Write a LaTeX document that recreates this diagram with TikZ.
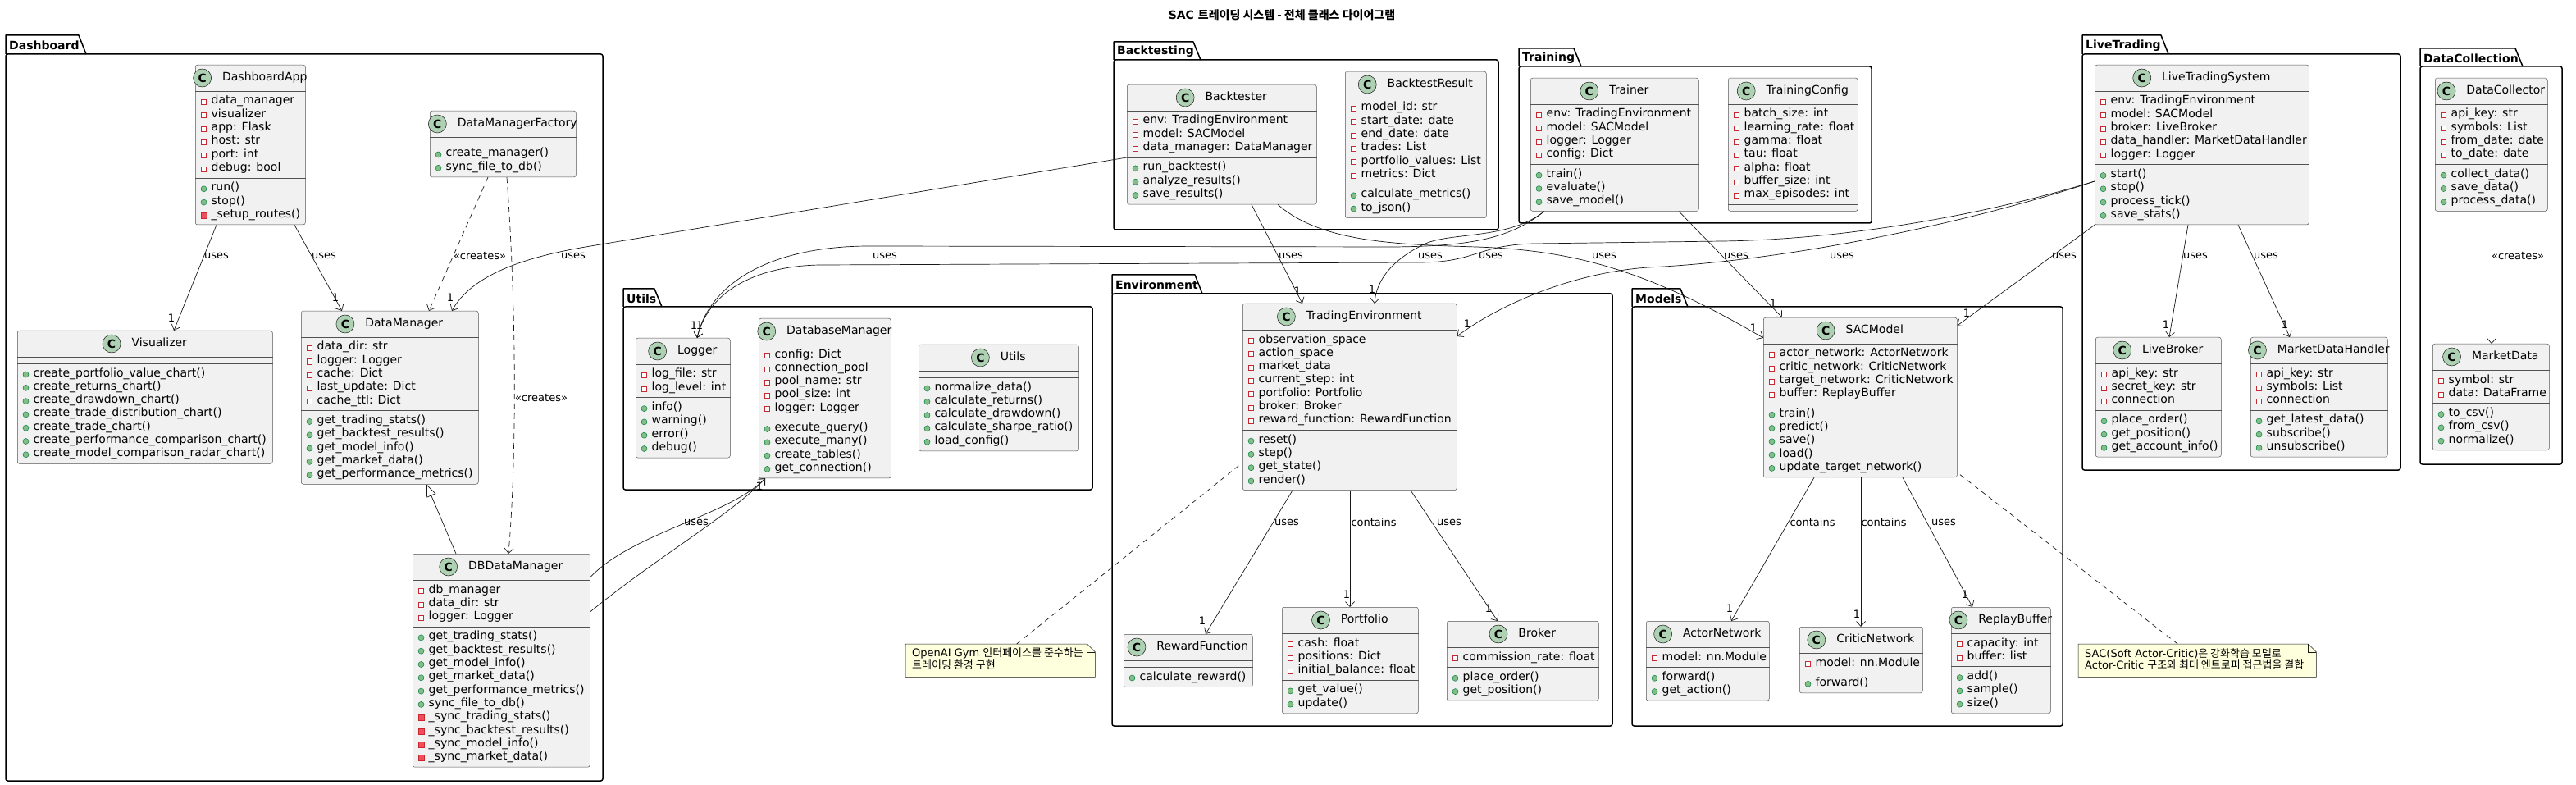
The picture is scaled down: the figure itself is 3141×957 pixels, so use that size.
\documentclass[tikz,border=0pt]{standalone}
\usepackage{fontspec}
\setmainfont{DejaVu Sans}
\newfontfamily\kr{Noto Sans CJK KR}
\usetikzlibrary{arrows.meta,positioning,calc}

\definecolor{umlfill}{HTML}{F1F1F1}
\definecolor{umlborder}{HTML}{181818}
\definecolor{iconfill}{HTML}{ADD1B2}
\definecolor{privred}{HTML}{C82930}
\definecolor{privfill}{HTML}{F24D5C}
\definecolor{pubgreen}{HTML}{038048}
\definecolor{pubfill}{HTML}{84BE84}
\definecolor{notefill}{HTML}{FEFFDD}

\tikzset{
  classbox/.style={draw=umlborder!75, fill=umlfill, line width=0.5pt, rounded corners=2.5pt, inner sep=0pt},
  sepline/.style={draw=umlborder!75, line width=0.5pt},
  classname/.style={inner sep=0pt, text height=10pt, text depth=3pt, font=\fontsize{14}{16}\selectfont},
  cicon/.style={circle, draw=umlborder, fill=iconfill, line width=0.5pt, minimum size=22pt, inner sep=0pt, font=\fontsize{14}{16}\selectfont\bfseries},
  member/.style={anchor=west, inner sep=0pt, text height=10pt, text depth=3pt, font=\fontsize{14}{16}\selectfont},
  privfield/.style={draw=privred, fill=white, line width=0.6pt, minimum size=6pt, inner sep=0pt},
  pubmeth/.style={circle, draw=pubgreen, fill=pubfill, line width=0.5pt, minimum size=7pt, inner sep=0pt},
  privmeth/.style={draw=privred, fill=privfill, line width=0.5pt, minimum size=7pt, inner sep=0pt},
  pkgline/.style={draw=black, line width=1.5pt, line join=round},
  pkgname/.style={anchor=west, inner sep=0pt, font=\fontsize{14}{16}\selectfont\bfseries},
  uses/.style={draw=umlborder, line width=0.7pt, -{Straight Barb[length=6pt,width=11pt]}},
  creates/.style={uses, dash pattern=on 7pt off 5pt},
  extends/.style={draw=umlborder, line width=0.7pt, -{Triangle[length=15pt,width=12pt,fill=white]}},
  notelink/.style={draw=umlborder, line width=0.7pt, dash pattern=on 6pt off 5pt},
  notebox/.style={draw=umlborder, fill=notefill, line width=0.5pt},
  notetext/.style={anchor=north west, inner sep=0pt, align=left, font=\fontsize{13}{14.5}\selectfont},
  elabel/.style={inner sep=0pt, font=\fontsize{13}{15}\selectfont},
  mult/.style={inner sep=0pt, font=\fontsize{13}{15}\selectfont},
}

\newlength{\namewd}
\newcommand{\umlclass}[8]{%
  \pgfmathsetmacro{\secA}{#5>0 ? #5*16.3+8 : 8}%
  \pgfmathsetmacro{\secM}{#7>0 ? #7*16.3+8 : 8}%
  \pgfmathsetmacro{\sepY}{32+\secA}%
  \pgfmathsetmacro{\boxH}{\sepY+\secM}%
  \settowidth{\namewd}{\fontsize{14}{16}\selectfont #1}%
  \pgfmathsetmacro{\gap}{max(2,min(13,#4-31-\namewd))}%
  \pgfmathsetmacro{\nshift}{(22+\gap)/2}%
  \node[classbox, minimum width=#4, minimum height=\boxH, anchor=north west] (#1) at (#2,#3) {};
  \node[classname] (#1-name) at ($(#1.north)+(\nshift,16)$) {#1};
  \node[cicon, left=\gap pt of #1-name] (#1-icon) {C};
  \draw[sepline] ($(#1.north west)+(0,32)$) -- ($(#1.north east)+(0,32)$);
  \draw[sepline] ($(#1.north west)+(0,\sepY)$) -- ($(#1.north east)+(0,\sepY)$);
  \ifnum#5>0
  \foreach \attr [count=\idx] in {#6} {
    \pgfmathsetmacro{\ry}{44.5+(\idx-1)*16.3}
    \node[privfield] (#1-ai\idx) at ($(#1.north west)+(10.5,\ry+1)$) {};
    \node[member] (#1-a\idx) at ($(#1.north west)+(19.5,\ry)$) {\attr};
  }
  \fi
  \ifnum#7>0
  \foreach \vis/\meth [count=\idx] in {#8} {
    \pgfmathsetmacro{\ry}{\sepY+12.5+(\idx-1)*16.3}
    \if p\vis
      \node[pubmeth] (#1-mi\idx) at ($(#1.north west)+(10.5,\ry+1)$) {};
    \else
      \node[privmeth] (#1-mi\idx) at ($(#1.north west)+(10.5,\ry+1)$) {};
    \fi
    \node[member] (#1-m\idx) at ($(#1.north west)+(19.5,\ry)$) {\meth};
  }
  \fi
}

\newcommand{\umlpackage}[7]{%
  \draw[pkgline] (#2,#4) -- (#2,#3) -- (#5-9,#3) -- (#5,#4);
  \draw[pkgline, rounded corners=2.5pt] (#2,#4) rectangle (#6,#7);
  \node[pkgname] (pkg-#1) at (#2+4,{(#3+#4)/2+1}) {#1};
}

\newcommand{\umlnote}[6]{%
  \node[anchor=north west, minimum width=#4, minimum height=#5, inner sep=0pt] (#1) at (#2,#3) {};
  \draw[notebox] (#1.north west) -- ([xshift=-10pt]#1.north east) -- ([yshift=-10pt]#1.north east) -- (#1.south east) -- (#1.south west) -- cycle;
  \draw[notebox, fill=none] ([xshift=-10pt]#1.north east) |- ([yshift=-10pt]#1.north east);
  \node[notetext] (#1-text) at ([xshift=8pt,yshift=-5pt]#1.north west) {#6};
}

\begin{document}
\begin{tikzpicture}[x=1pt,y=-1pt]
\useasboundingbox (0,0) rectangle (3141,957);

\node[font=\fontsize{14}{16}\selectfont\bfseries] (title) at (1563,18) {SAC {\kr 트레이딩 시스템 - 전체 클래스 다이어그램}};

\umlpackage{Dashboard}{7}{43}{66}{105}{735}{952}
\umlpackage{Utils}{760}{352}{374}{807}{1332}{597}
\umlpackage{Environment}{1356}{335}{358}{1466}{1966}{885}
\umlpackage{Models}{1990}{352}{374}{2058}{2515}{885}
\umlpackage{Backtesting}{1358}{51}{73}{1464}{1827}{280}
\umlpackage{Training}{1852}{59}{81}{1928}{2282}{272}
\umlpackage{LiveTrading}{2539}{43}{66}{2644}{2927}{573}
\umlpackage{DataCollection}{2951}{59}{81}{3076}{3124}{566}

\umlclass{DashboardApp}{238}{79}{134}{6}{data\_manager, visualizer, app: Flask, host: str, port: int, debug: bool}{3}{p/run(), p/stop(), r/\_setup\_routes()}
\umlclass{DataManagerFactory}{524}{135}{178}{0}{}{2}{p/create\_manager(), p/sync\_file\_to\_db()}
\umlclass{Visualizer}{21}{403}{311}{0}{}{7}{p/create\_portfolio\_value\_chart(), p/create\_returns\_chart(), p/create\_drawdown\_chart(), p/create\_trade\_distribution\_chart(), p/create\_trade\_chart(), p/create\_performance\_comparison\_chart(), p/create\_model\_comparison\_radar\_chart()}
\umlclass{DataManager}{367}{379}{216}{5}{data\_dir: str, logger: Logger, cache: Dict, last\_update: Dict, cache\_ttl: Dict}{5}{p/get\_trading\_stats(), p/get\_backtest\_results(), p/get\_model\_info(), p/get\_market\_data(), p/get\_performance\_metrics()}
\umlclass{DBDataManager}{503}{675}{216}{3}{db\_manager, data\_dir: str, logger: Logger}{10}{p/get\_trading\_stats(), p/get\_backtest\_results(), p/get\_model\_info(), p/get\_market\_data(), p/get\_performance\_metrics(), p/sync\_file\_to\_db(), r/\_sync\_trading\_stats(), r/\_sync\_backtest\_results(), r/\_sync\_model\_info(), r/\_sync\_market\_data()}

\umlclass{Logger}{775}{412}{115}{2}{log\_file: str, log\_level: int}{4}{p/info(), p/warning(), p/error(), p/debug()}
\umlclass{DatabaseManager}{925}{388}{161}{5}{config: Dict, connection\_pool, pool\_name: str, pool\_size: int, logger: Logger}{4}{p/execute\_query(), p/execute\_many(), p/create\_tables(), p/get\_connection()}
\umlclass{Utils}{1120}{420}{195}{0}{}{5}{p/normalize\_data(), p/calculate\_returns(), p/calculate\_drawdown(), p/calculate\_sharpe\_ratio(), p/load\_config()}

\umlclass{TradingEnvironment}{1515}{370}{261}{7}{observation\_space, action\_space, market\_data, current\_step: int, portfolio: Portfolio, broker: Broker, reward\_function: RewardFunction}{4}{p/reset(), p/step(), p/get\_state(), p/render()}
\umlclass{RewardFunction}{1370}{773}{157}{0}{}{1}{p/calculate\_reward()}
\umlclass{Portfolio}{1563}{740}{166}{3}{cash: float, positions: Dict, initial\_balance: float}{2}{p/get\_value(), p/update()}
\umlclass{Broker}{1764}{757}{185}{1}{commission\_rate: float}{2}{p/place\_order(), p/get\_position()}

\umlclass{SACModel}{2150}{387}{236}{4}{actor\_network: ActorNetwork, critic\_network: CriticNetwork, target\_network: CriticNetwork, buffer: ReplayBuffer}{5}{p/train(), p/predict(), p/save(), p/load(), p/update\_target\_network()}
\umlclass{ActorNetwork}{2007}{757}{150}{1}{model: nn.Module}{2}{p/forward(), p/get\_action()}
\umlclass{CriticNetwork}{2194}{764}{150}{1}{model: nn.Module}{1}{p/forward()}
\umlclass{ReplayBuffer}{2379}{740}{121}{2}{capacity: int, buffer: list}{3}{p/add(), p/sample(), p/size()}

\umlclass{Backtester}{1374}{103}{231}{3}{env: TradingEnvironment, model: SACModel, data\_manager: DataManager}{3}{p/run\_backtest(), p/analyze\_results(), p/save\_results()}
\umlclass{BacktestResult}{1640}{87}{172}{6}{model\_id: str, start\_date: date, end\_date: date, trades: List, portfolio\_values: List, metrics: Dict}{2}{p/calculate\_metrics(), p/to\_json()}
\umlclass{Trainer}{1866}{95}{205}{4}{env: TradingEnvironment, model: SACModel, logger: Logger, config: Dict}{3}{p/train(), p/evaluate(), p/save\_model()}
\umlclass{TrainingConfig}{2107}{95}{158}{7}{batch\_size: int, learning\_rate: float, gamma: float, tau: float, alpha: float, buffer\_size: int, max\_episodes: int}{0}{}

\umlclass{LiveTradingSystem}{2554}{79}{261}{5}{env: TradingEnvironment, model: SACModel, broker: LiveBroker, data\_handler: MarketDataHandler, logger: Logger}{4}{p/start(), p/stop(), p/process\_tick(), p/save\_stats()}
\umlclass{LiveBroker}{2555}{411}{153}{3}{api\_key: str, secret\_key: str, connection}{3}{p/place\_order(), p/get\_position(), p/get\_account\_info()}
\umlclass{MarketDataHandler}{2744}{411}{167}{3}{api\_key: str, symbols: List, connection}{3}{p/get\_latest\_data(), p/subscribe(), p/unsubscribe()}
\umlclass{DataCollector}{2969}{95}{137}{4}{api\_key: str, symbols: List, from\_date: date, to\_date: date}{3}{p/collect\_data(), p/save\_data(), p/process\_data()}
\umlclass{MarketData}{2966}{419}{142}{2}{symbol: str, data: DataFrame}{3}{p/to\_csv(), p/from\_csv(), p/normalize()}

\umlnote{noteEnv}{1104}{785}{231}{40}{OpenAI Gym {\kr 인터페이스를 준수하는}\\{\kr 트레이딩 환경 구현}}
\umlnote{noteSAC}{2534}{785}{290}{40}{SAC(Soft Actor-Critic){\kr 은 강화학습 모델로}\\Actor-Critic {\kr 구조와 최대 엔트로피 접근법을 결합}}

\draw[uses] ([xshift=26pt]DashboardApp.south west) -- ([xshift=191pt]Visualizer.north west);
\draw[uses] ([xshift=121pt]DashboardApp.south west) -- ([xshift=50pt]DataManager.north west);
\draw[creates] ([xshift=71pt]DataManagerFactory.south west) -- ([xshift=156pt]DataManager.north west);
\draw[creates] ([xshift=94pt]DataManagerFactory.south west) .. controls (630,380) and (630,560) .. ([xshift=117pt]DBDataManager.north west);
\draw[extends] ([xshift=53pt]DBDataManager.north west) -- ([xshift=153pt]DataManager.south west);
\draw[uses] ([yshift=-89pt]Backtester.north west) -- (720,300) .. controls (640,313) and (575,335) .. ([xshift=184pt]DataManager.north west);
\draw[uses] ([yshift=-29pt]DBDataManager.north east) .. controls (770,650) and (890,628) .. ([xshift=8pt]DatabaseManager.south west);
\draw[uses] ([yshift=-71pt]DBDataManager.north east) .. controls (800,680) and (895,625) .. ([xshift=8pt]DatabaseManager.south west);

\draw[uses] ([xshift=17pt]Trainer.south west) .. controls (1840,292) and (1790,300) .. (1700,301) -- (1060,300) .. controls (940,300) and (865,345) .. ([xshift=75pt]Logger.north west);
\draw[uses] ([yshift=-142pt]LiveTradingSystem.north west) .. controls (2420,262) and (2250,292) .. (2100,294) -- (1870,297) .. controls (1800,299) and (1800,320) .. (1730,320) -- (1000,323) .. controls (930,324) and (865,350) .. ([xshift=75pt]Logger.north west);
\draw[uses] ([yshift=-142pt]LiveTradingSystem.north west) .. controls (2400,272) and (2180,318) .. (2010,326) .. controls (1920,332) and (1830,370) .. ([yshift=-40pt]TradingEnvironment.north east);
\draw[uses] ([xshift=152pt]Backtester.south west) -- ([xshift=73pt]TradingEnvironment.north west);
\draw[uses] ([xshift=184pt]Backtester.south west) .. controls (1610,295) and (1700,298) .. (1800,301) .. controls (1920,305) and (2010,330) .. ([yshift=-25pt]SACModel.north west);
\draw[uses] ([xshift=17pt]Trainer.south west) .. controls (1840,292) and (1770,283) .. (1738,297) .. controls (1700,315) and (1678,340) .. ([xshift=161pt]TradingEnvironment.north west);
\draw[uses] ([xshift=181pt]Trainer.south west) -- ([xshift=23pt]SACModel.north west);
\draw[uses] (LiveTradingSystem.south west) -- ([yshift=-10pt]SACModel.north east);
\draw[uses] ([xshift=114pt]LiveTradingSystem.south west) -- ([xshift=90pt]LiveBroker.north west);
\draw[uses] ([xshift=175pt]LiveTradingSystem.south west) -- ([xshift=48pt]MarketDataHandler.north west);
\draw[creates] ([xshift=69pt]DataCollector.south west) -- ([xshift=72pt]MarketData.north west);

\draw[uses] ([xshift=61pt]TradingEnvironment.south west) -- ([xshift=100pt]RewardFunction.north west);
\draw[uses] ([xshift=131pt]TradingEnvironment.south west) -- ([xshift=83pt]Portfolio.north west);
\draw[uses] ([xshift=205pt]TradingEnvironment.south west) -- ([xshift=62pt]Broker.north west);
\draw[uses] ([xshift=62pt]SACModel.south west) -- ([xshift=104pt]ActorNetwork.north west);
\draw[uses] ([xshift=119pt]SACModel.south west) -- ([xshift=75pt]CriticNetwork.north west);
\draw[uses] ([xshift=170pt]SACModel.south west) -- ([xshift=26pt]ReplayBuffer.north west);

\draw[notelink] ([xshift=20pt]noteEnv.north) -- ([yshift=-194pt]TradingEnvironment.north west);
\draw[notelink] ([xshift=-24pt]noteSAC.north) -- ([yshift=-189pt]SACModel.north east);

\node[elabel] (l-app-vis) at (264,312) {uses};
\node[elabel] (l-app-dm) at (395,312) {uses};
\node[elabel] (l-fac-dm) at (585,312) {«creates»};
\node[elabel] (l-fac-db) at (660,485) {«creates»};
\node[elabel] (l-bt-dm) at (699,312) {uses};
\node[elabel] (l-db-dbm) at (849,637) {uses};
\node[elabel] (l-tr-log) at (1079,312) {uses};
\node[elabel] (l-bt-env) at (1574,312) {uses};
\node[elabel] (l-tr-env) at (1744,312) {uses};
\node[elabel] (l-lts-log) at (1818,312) {uses};
\node[elabel] (l-bt-sac) at (1956,312) {uses};
\node[elabel] (l-tr-sac) at (2117,312) {uses};
\node[elabel] (l-lts-env) at (2246,312) {uses};
\node[elabel] (l-lts-sac) at (2517,312) {uses};
\node[elabel] (l-lts-lb) at (2677,312) {uses};
\node[elabel] (l-lts-mdh) at (2763,312) {uses};
\node[elabel] (l-dc-md) at (3070,312) {«creates»};
\node[elabel] (l-env-rf) at (1569,637) {uses};
\node[elabel] (l-env-pf) at (1675,637) {contains};
\node[elabel] (l-env-br) at (1767,637) {uses};
\node[elabel] (l-sac-an) at (2210,637) {contains};
\node[elabel] (l-sac-cn) at (2297,637) {contains};
\node[elabel] (l-sac-rb) at (2370,637) {uses};

\node[mult] (m-vis) at (209,388) {1};
\node[mult] (m-dm1) at (409,363) {1};
\node[mult] (m-dm2) at (549,363) {1};
\node[mult] (m-dbm) at (926,593) {1};
\node[mult] (m-log1) at (846,397) {1};
\node[mult] (m-log2) at (853,397) {1};
\node[mult] (m-env1) at (1582,355) {1};
\node[mult] (m-env2) at (1673,353) {1};
\node[mult] (m-env3) at (1789,395) {1};
\node[mult] (m-sac1) at (2138,400) {1};
\node[mult] (m-sac2) at (2162,370) {1};
\node[mult] (m-sac3) at (2398,382) {1};
\node[mult] (m-lb) at (2641,396) {1};
\node[mult] (m-mdh) at (2786,396) {1};
\node[mult] (m-rf) at (1466,757) {1};
\node[mult] (m-pf) at (1642,725) {1};
\node[mult] (m-br) at (1815,742) {1};
\node[mult] (m-an) at (2109,742) {1};
\node[mult] (m-cn) at (2264,749) {1};
\node[mult] (m-rb) at (2396,725) {1};
\end{tikzpicture}
\end{document}
